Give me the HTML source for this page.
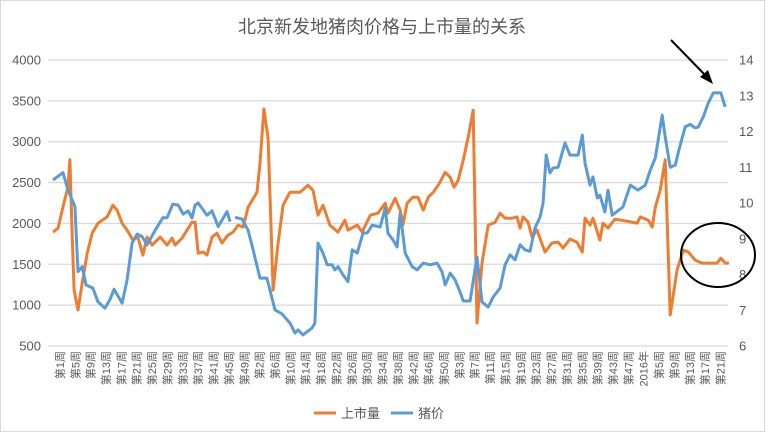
<!DOCTYPE html>
<html><head><meta charset="utf-8">
<style>
html,body{margin:0;padding:0;background:#fff;}
svg{display:block;font-family:"Liberation Sans","Noto Sans CJK SC",sans-serif;}
</style></head>
<body>
<svg id="chart" width="776" height="437" viewBox="0 0 776 437" xmlns="http://www.w3.org/2000/svg">
<rect x="0.5" y="0.5" width="764" height="431" fill="#fff" stroke="#d9d9d9"/>
<text x="382" y="33" text-anchor="middle" font-size="18" fill="#595959">北京新发地猪肉价格与上市量的关系</text>
<g id="grid"></g>
<g id="yl"></g>
<g id="yr"></g>
<g id="xl"></g>
<g id="series"></g>
<g>
  <line x1="314" y1="413" x2="336" y2="413" stroke="#ED7D31" stroke-width="3"/>
  <text x="341" y="418" font-size="13" fill="#595959">上市量</text>
  <line x1="391" y1="413" x2="413" y2="413" stroke="#5B9BD5" stroke-width="3"/>
  <text x="418" y="418" font-size="13" fill="#595959">猪价</text>
</g>
<g>
  <line x1="671" y1="40" x2="707" y2="77" stroke="#000" stroke-width="2"/>
  <polygon points="713,84 700,77 708,70" fill="#000"/>
  <ellipse cx="718" cy="255" rx="37" ry="32" fill="none" stroke="#000" stroke-width="2"/>
</g>
</svg>
<script>
const leftTicks=[500,1000,1500,2000,2500,3000,3500,4000];
const rightTicks=[6,7,8,9,10,11,12,13,14];
const xLabels=["第1周","第5周","第9周","第13周","第17周","第21周","第25周","第29周","第33周","第37周","第41周","第45周","第49周","第2周","第6周","第10周","第14周","第18周","第22周","第26周","第30周","第34周","第38周","第42周","第46周","第50周","第3周","第7周","第11周","第15周","第19周","第23周","第27周","第31周","第35周","第39周","第43周","第47周","2016年","第5周","第9周","第13周","第17周","第21周"];
const supplyWeeks=[0,1.3,2.6,3.9,4.4,4.9,5.5,6.5,7.6,8.9,10.2,11.7,14.1,15.6,16.7,18,19.3,20.8,22.1,23.4,24.5,25.8,27.9,29.7,31,31.8,33.6,36.2,37,37.8,39.1,40.1,41.4,42.7,44,45.6,46.9,48.2,49.5,50.8,53.1,53.9,54.9,56,57.3,58.6,59.9,61.7,64.3,66.4,67.7,69,70.3,72.1,74.2,76,76.8,79.2,80.5,82.6,84.6,86.5,87.2,89.1,90.4,91.1,92.2,93.7,95,96.4,97.7,99,100.3,102.1,103.4,104.4,105.5,106.8,108.1,109.4,110.4,111.7,113.3,115.1,116.4,117.7,119.5,120.8,121.6,122.4,123.7,124.7,126,128.1,129.9,131.5,132.8,134.6,136.4,137.8,138.5,139.8,140.6,142.4,143.2,144.5,146.3,149.5,152.1,152.9,155,156,156.8,158.1,159.4,160.7,162.5,164.1,165.4,167.2,169,171.1,172.9,173.9,175,176];
const supplyValues=[1894,1940,2203,2447,2780,2003,1184,940,1270,1636,1880,2003,2080,2223,2162,2003,1918,1796,1833,1613,1833,1735,1833,1735,1820,1735,1820,2015,2015,1636,1650,1613,1833,1880,1760,1857,1894,1980,1955,2199,2382,2736,3400,3040,1184,1760,2223,2382,2382,2467,2406,2101,2223,1980,1894,2040,1918,1980,1894,2101,2125,2248,2125,2308,2162,1980,2248,2321,2321,2162,2321,2382,2467,2626,2565,2443,2528,2773,3054,3384,781,1514,1980,2015,2125,2064,2064,2080,1943,2080,2015,1833,1918,1650,1760,1772,1698,1808,1772,1650,2064,1980,2064,1796,2003,1943,2052,2027,2003,2080,2040,1955,2199,2406,2780,879,1429,1673,1650,1551,1514,1514,1514,1575,1514,1514];
const priceWeeks=[0,2.6,3.9,5.7,6.5,7.6,8.6,10.4,11.7,13.5,14.8,15.9,18,19.3,20.6,21.9,23.2,24.5,26.6,28.6,29.7,31.2,32.6,33.9,35.2,36.2,37,37.8,40.1,41.4,43,45.3,46.1,46.6,47.4,49.2,50.8,52.1,53.9,55.7,57.8,59.6,61.7,63,63.8,65.1,67.4,68.2,69,70.3,71.4,72.7,73.4,74.2,75.5,76.8,77.9,79.2,80.7,81.8,83.1,85.2,86.5,87.2,88.5,89.6,90.4,91.7,93.5,94.8,96.4,98.2,100,101.3,102.1,103.4,104.7,106,106.8,108.6,110.4,111.7,113.3,114.6,116.4,117.7,119,120.3,121.6,122.9,124.2,125.5,126.8,127.6,128.4,129.4,130.2,131.5,133.3,134.6,136.7,137.8,138.5,139.8,140.6,141.7,142.4,143.7,144.5,145.6,148.4,150.3,152.3,154.2,155.5,156.8,158.6,159.4,160.7,162,163.3,164.6,165.9,167.2,168,169.3,170.6,171.9,172.9,173.9,175];
const priceValues=[10.64,10.85,10.36,9.9,8.08,8.22,7.71,7.62,7.24,7.06,7.29,7.59,7.2,7.85,8.88,9.13,9.06,8.83,9.24,9.59,9.59,9.97,9.94,9.69,9.78,9.58,9.94,10.0,9.66,9.78,9.34,9.76,9.48,null,9.6,9.55,9.24,8.69,7.9,7.9,7.01,6.9,6.64,6.36,6.45,6.31,6.5,6.64,8.88,8.6,8.27,8.27,8.13,8.22,7.99,7.8,8.69,8.6,9.16,9.16,9.38,9.33,9.86,9.16,8.97,8.77,9.72,8.6,8.22,8.13,8.32,8.27,8.32,8.07,7.71,8.04,7.85,7.51,7.26,7.26,8.49,7.23,7.09,7.37,7.62,8.27,8.55,8.41,8.83,8.69,8.65,9.3,9.6,10.0,11.34,10.84,10.98,11.0,11.68,11.34,11.34,11.9,11.12,10.5,10.73,10.14,10.22,9.75,10.36,9.66,9.89,10.5,10.36,10.5,10.92,11.26,12.46,11.85,11.0,11.06,11.62,12.13,12.2,12.1,12.13,12.41,12.8,13.08,13.08,13.08,12.69];

const NS="http://www.w3.org/2000/svg";
const X0=53,X1=729,W0=0,W1=176;
const PT=60,PB=346;
function xs(w){return X0+(w-W0)/(W1-W0)*(X1-X0);}
function yl(v){return PB-(v-500)/(4000-500)*(PB-PT);}
function yr(v){return PB-(v-6)/(14-6)*(PB-PT);}
function mk(tag,attrs,parent){const e=document.createElementNS(NS,tag);for(const k in attrs)e.setAttribute(k,attrs[k]);parent.appendChild(e);return e;}
const grid=document.getElementById('grid'),gl=document.getElementById('yl'),gr=document.getElementById('yr'),gx=document.getElementById('xl'),gs=document.getElementById('series');
leftTicks.forEach(v=>{
  const l=mk('line',{x1:48,x2:728,y1:yl(v),y2:yl(v),stroke:'#d9d9d9','stroke-width':1.3},grid);
  
  
  const t=mk('text',{x:41,y:yl(v)+4.5,'text-anchor':'end','font-size':13,fill:'#595959'},gl);
  t.textContent=v;
  
  
});
rightTicks.forEach(v=>{
  const t=mk('text',{x:739,y:yr(v)+4.5,'text-anchor':'start','font-size':13,fill:'#595959'},gr);
  t.textContent=v;
  
  
});
xLabels.forEach((s,i)=>{
  const x=xs(i*4+1.8);
  const t=mk('text',{x:0,y:0,transform:'translate('+(x+4)+',351) rotate(-90)','text-anchor':'end','font-size':11,fill:'#595959'},gx);
  t.textContent=s;
  
  
});
function path(ws,vs,ysc){let d='',pen=false;ws.forEach((w,i)=>{const v=vs[i];if(v===null){pen=false;return;}d+=(pen?'L':'M')+xs(w).toFixed(1)+','+ysc(v).toFixed(1);pen=true;});return d;}
const ps=mk('path',{d:path(supplyWeeks,supplyValues,yl),fill:'none',stroke:'#ED7D31','stroke-width':3,'stroke-linejoin':'round'},gs);


const pp=mk('path',{d:path(priceWeeks,priceValues,yr),fill:'none',stroke:'#5B9BD5','stroke-width':3,'stroke-linejoin':'round'},gs);


</script>
</body></html>
